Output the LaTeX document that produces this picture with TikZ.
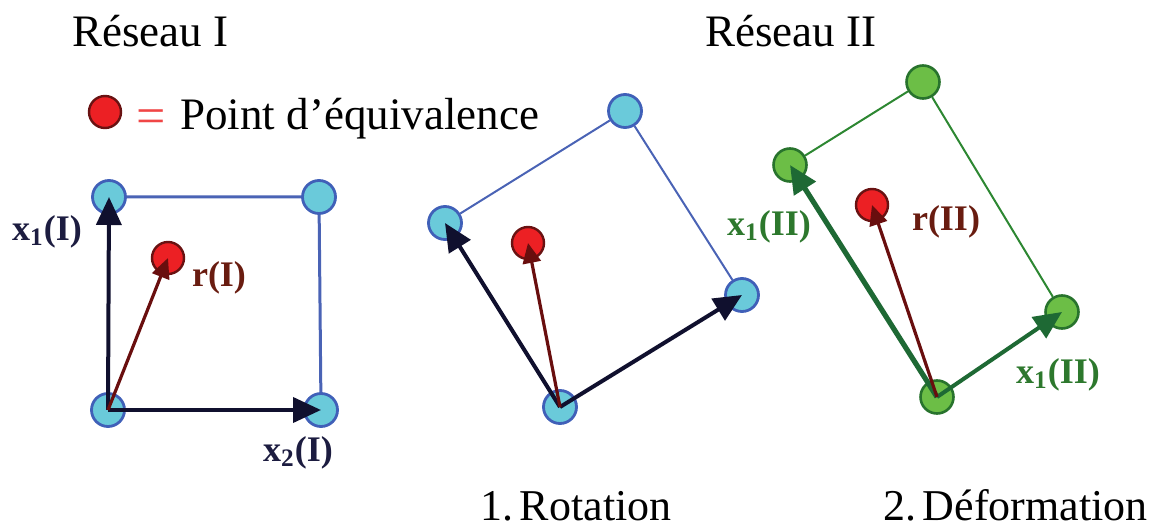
\documentclass[tikz,border=0pt]{standalone}
\usepackage{fontspec}
\setmainfont{Liberation Serif}
\usetikzlibrary{arrows.meta}
\definecolor{cyanfill}{RGB}{106,202,218}
\definecolor{cyanedge}{RGB}{64,96,184}
\definecolor{blueline}{RGB}{74,99,181}
\definecolor{greenfill}{RGB}{108,190,70}
\definecolor{greenedge}{RGB}{40,115,45}
\definecolor{greenline}{RGB}{45,135,50}
\definecolor{redfill}{RGB}{236,32,36}
\definecolor{rededge}{RGB}{105,18,18}
\definecolor{navy}{RGB}{16,16,46}
\definecolor{brownarrow}{RGB}{105,14,14}
\definecolor{greenarrow}{RGB}{30,105,52}
\definecolor{navylabel}{RGB}{28,28,64}
\definecolor{brownlabel}{RGB}{105,28,16}
\definecolor{greenlabel}{RGB}{45,120,45}
\definecolor{eqred}{RGB}{240,70,70}
\begin{document}
\begin{tikzpicture}[x=0.5pt,y=-0.5pt,
  cyanpt/.style={circle,fill=cyanfill,draw=cyanedge,line width=1.4pt,minimum size=16.5pt,inner sep=0pt},
  greenpt/.style={circle,fill=greenfill,draw=greenedge,line width=1.3pt,minimum size=16.5pt,inner sep=0pt},
  redpt/.style={circle,fill=redfill,draw=rededge,line width=1.2pt,minimum size=16pt,inner sep=0pt},
  title/.style={inner sep=0pt,anchor=base west,font=\fontsize{22.5}{27}\selectfont},
  steptext/.style={inner sep=0pt,anchor=base west,font=\fontsize{22}{26}\selectfont},
  lbl/.style={inner sep=0pt,font=\fontsize{18}{21}\selectfont\bfseries},
  bigvec/.style={line width=2pt,-{Triangle[length=14pt,width=12.5pt]}},
  rvec/.style={line width=1.6pt,brownarrow,-{Triangle[length=10pt,width=9pt]}},
  thickline/.style={line width=1.5pt,blueline},
  thinline/.style={line width=1pt,blueline},
  gline/.style={line width=1pt,greenline}]
\useasboundingbox (0,0) rectangle (1157,529);

% titles
\node[title] (t1) at (72,47) {Réseau I};
\node[title] (t2) at (705,47) {Réseau II};
\node[steptext] (t3) at (480,520) {1.\hspace{0.15em}Rotation};
\node[steptext] (t4) at (883,520) {2.\hspace{0.15em}Déformation};

% legend
\node[redpt] (leg) at (105,112) {};
\node[inner sep=0pt,anchor=base,text=eqred,font=\fontsize{26}{30}\selectfont] (eq) at (151,134) {=};
\node[title] (legt) at (180,130) {Point d’équivalence};

% Reseau I
\node[cyanpt] (a1) at (109,197) {};
\node[cyanpt] (a2) at (319,197) {};
\node[cyanpt] (a3) at (108,410) {};
\node[cyanpt] (a4) at (321,410) {};
\node[redpt] (ra) at (168,258) {};
\draw[thickline] (a1) -- (a2) -- (a4);
\draw[bigvec,navy] (a3.center) -- (a1.center);
\draw[bigvec,navy] (a3.center) -- (a4.center);
\draw[rvec] (a3.center) -- (ra.center);
\node[lbl,text=navylabel] (lx1) at (47,232) {x\textsubscript{1}(I)};
\node[lbl,text=navylabel] (lx2) at (298,453) {x\textsubscript{2}(I)};
\node[lbl,text=brownlabel] (lr1) at (219,278) {r(I)};

% Rotation
\node[cyanpt] (b1) at (625,111) {};
\node[cyanpt] (b2) at (445,223) {};
\node[cyanpt] (b3) at (742,295) {};
\node[cyanpt] (b4) at (560,407) {};
\node[redpt] (rb) at (528,243) {};
\draw[thinline] (b2) -- (b1) -- (b3);
\draw[bigvec,navy] (b4.center) -- (b2.center);
\draw[bigvec,navy] (b4.center) -- (b3.center);
\draw[rvec] (b4.center) -- (rb.center);

% Deformation
\node[greenpt] (c1) at (923,82) {};
\node[greenpt] (c2) at (790,165) {};
\node[greenpt] (c3) at (1062,312) {};
\node[greenpt] (c4) at (937,397) {};
\node[redpt] (rc) at (872,205) {};
\draw[gline] (c2) -- (c1) -- (c3);
\draw[greenarrow,line width=2.6pt,-{Triangle[length=14pt,width=12.5pt]}] (c4.center) -- (c2.center);
\draw[greenarrow,line width=2pt,-{Triangle[length=14pt,width=12.5pt]}] (c4.center) -- (c3.center);
\draw[rvec] (c4.center) -- (rc.center);
\node[lbl,text=greenlabel] (lx3) at (769,227) {x\textsubscript{1}(II)};
\node[lbl,text=brownlabel] (lr2) at (946,222) {r(II)};
\node[lbl,text=greenlabel] (lx4) at (1058,375) {x\textsubscript{1}(II)};
\end{tikzpicture}
\end{document}
